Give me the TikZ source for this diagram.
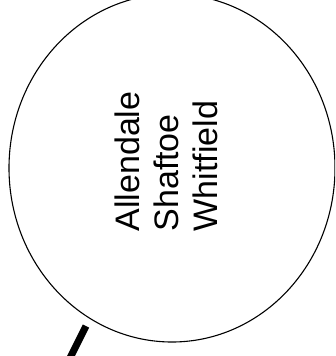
\documentclass[tikz,border=0pt]{standalone}
\usepackage{fontspec}
\setmainfont{Liberation Sans}
\usetikzlibrary{shapes.geometric}
\begin{document}
\begin{tikzpicture}[x=1pt,y=-1pt,
  bubble/.style={draw=black,line width=1.1pt,ellipse,inner sep=0pt,
    minimum width=326pt,minimum height=348pt},
  vlabel/.style={rotate=90,align=left,inner sep=0pt,
    font=\fontsize{34pt}{39pt}\selectfont},
  pointer/.style={draw=black,line width=7pt,line cap=butt}]
\useasboundingbox (0,0) rectangle (335,356);
\clip (0,0) rectangle (335,356);
\node[bubble] (circ) at (172,168) {};
\node[vlabel] (txt) at (166,161.5) {Allendale\\Shaftoe\\Whitfield};
\coordinate (ptop) at (86,326);
\coordinate (pbot) at (68,362);
\draw[pointer] (ptop) -- (pbot);
\end{tikzpicture}
\end{document}
